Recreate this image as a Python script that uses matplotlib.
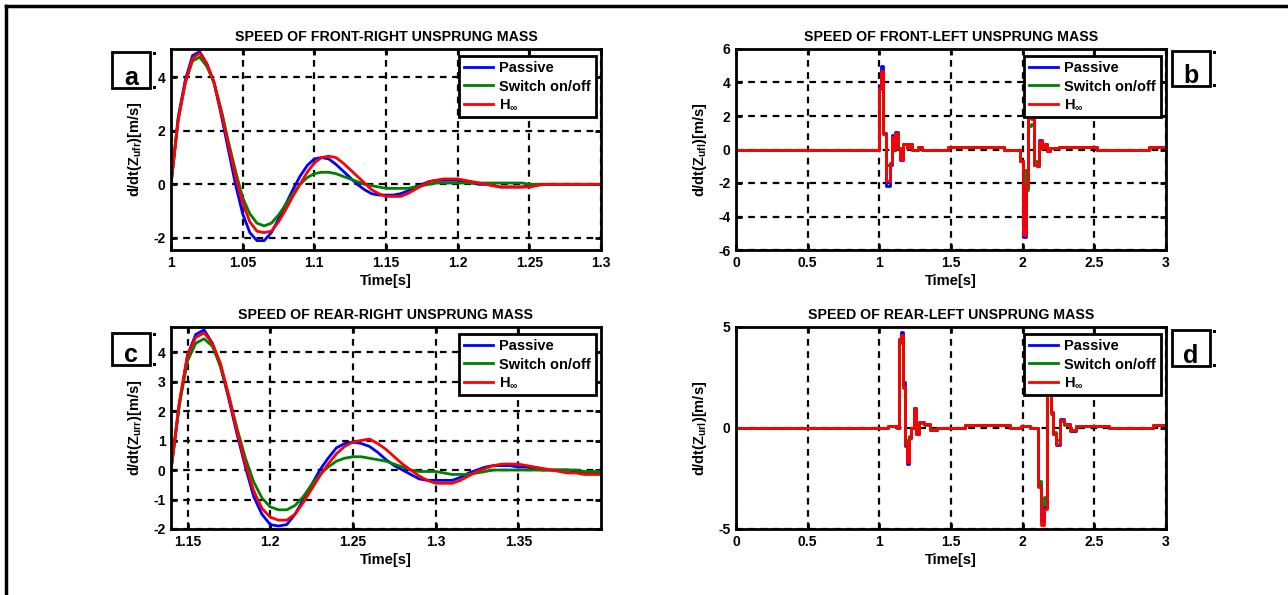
import numpy as np
import matplotlib
matplotlib.use("Agg")
import matplotlib.pyplot as plt
from matplotlib.lines import Line2D
from matplotlib.patches import Rectangle

plt.rcParams['font.family'] = 'Liberation Sans'
plt.rcParams['font.weight'] = 'bold'
plt.rcParams['mathtext.fontset'] = 'custom'
plt.rcParams['mathtext.rm'] = 'Liberation Sans:bold'
plt.rcParams['mathtext.bf'] = 'Liberation Sans:bold'
plt.rcParams['mathtext.default'] = 'bf'

# ---------------- data ----------------
# (a) front-right, sampled every 5 ms from 1.000 s
t_a = np.round(np.arange(1.0, 1.3001, 0.005), 3)
a_passive = [0.0, 2.5, 3.9, 4.8, 4.95, 4.5, 3.8, 2.6, 1.3, 0.0,
             -1.1, -1.8, -2.1, -2.1, -1.8, -1.3, -0.75, -0.2, 0.3, 0.7,
             0.95, 1.0, 0.95, 0.75, 0.5, 0.25, 0.0, -0.2, -0.35, -0.4,
             -0.4, -0.4, -0.35, -0.25, -0.1, 0.0, 0.1, 0.15, 0.15, 0.15,
             0.15, 0.1, 0.05, 0.0, 0.0, -0.05, -0.1, -0.1, -0.1, -0.1,
             -0.05, 0.0, 0.0, 0.0, 0.0, 0.0, 0.0, 0.0, 0.0, 0.0, 0.0]
a_switch = [0.0, 2.4, 3.8, 4.6, 4.75, 4.4, 3.8, 2.8, 1.6, 0.5,
            -0.5, -1.1, -1.45, -1.55, -1.45, -1.15, -0.75, -0.35, 0.0, 0.25,
            0.4, 0.45, 0.45, 0.4, 0.3, 0.2, 0.1, 0.0, -0.05, -0.1,
            -0.15, -0.15, -0.15, -0.15, -0.1, -0.05, 0.0, 0.05, 0.05, 0.05,
            0.05, 0.05, 0.05, 0.05, 0.05, 0.05, 0.05, 0.05, 0.05, 0.05,
            0.0, 0.0, 0.0, 0.0, 0.0, 0.0, 0.0, 0.0, 0.0, 0.0, 0.0]
a_hinf = [0.0, 2.4, 3.8, 4.7, 4.9, 4.5, 3.8, 2.7, 1.5, 0.3,
          -0.7, -1.4, -1.75, -1.8, -1.75, -1.4, -0.95, -0.45, 0.0, 0.45,
          0.8, 1.0, 1.05, 1.0, 0.8, 0.55, 0.3, 0.05, -0.2, -0.35,
          -0.45, -0.45, -0.45, -0.35, -0.2, -0.05, 0.1, 0.15, 0.2, 0.2,
          0.2, 0.15, 0.1, 0.05, 0.0, -0.05, -0.1, -0.1, -0.1, -0.1,
          -0.1, -0.05, 0.0, 0.0, 0.0, 0.0, 0.0, 0.0, 0.0, 0.0, 0.0]

# (c) rear-right, sampled every 5 ms from 1.140 s
t_c = np.round(np.arange(1.14, 1.4001, 0.005), 3)
c_passive = [0.0, 2.2, 3.9, 4.6, 4.75, 4.3, 3.5, 2.4, 1.2, 0.1,
             -0.9, -1.5, -1.85, -1.9, -1.85, -1.5, -1.0, -0.5, 0.0, 0.4,
             0.75, 0.9, 0.95, 0.9, 0.8, 0.6, 0.35, 0.15, 0.0, -0.15,
             -0.3, -0.35, -0.35, -0.35, -0.35, -0.25, -0.1, 0.0, 0.1, 0.15,
             0.15, 0.15, 0.1, 0.1, 0.05, 0.0, 0.0, 0.0, 0.0, -0.05,
             -0.1, -0.1, -0.1]
c_switch = [0.0, 2.2, 3.7, 4.3, 4.45, 4.2, 3.5, 2.5, 1.4, 0.4,
            -0.4, -0.95, -1.25, -1.35, -1.35, -1.2, -0.9, -0.5, -0.15, 0.1,
            0.3, 0.4, 0.45, 0.45, 0.4, 0.35, 0.3, 0.2, 0.1, 0.0,
            -0.05, -0.05, -0.05, -0.1, -0.15, -0.15, -0.15, -0.1, -0.05, 0.0,
            0.0, 0.0, 0.0, 0.0, 0.0, 0.0, 0.0, 0.0, 0.0, 0.0,
            -0.05, -0.05, -0.05]
c_hinf = [0.0, 2.3, 3.9, 4.5, 4.65, 4.3, 3.6, 2.5, 1.3, 0.2,
          -0.7, -1.3, -1.6, -1.7, -1.7, -1.5, -1.1, -0.65, -0.2, 0.2,
          0.55, 0.8, 0.95, 1.0, 1.05, 0.9, 0.7, 0.45, 0.2, 0.0,
          -0.2, -0.35, -0.45, -0.45, -0.45, -0.35, -0.2, -0.05, 0.05, 0.15,
          0.2, 0.2, 0.2, 0.15, 0.1, 0.05, 0.0, -0.05, -0.1, -0.1,
          -0.15, -0.15, -0.15]

# (b) front-left, step changes (time, value)
b_time = [0.0, 0.995, 1.011, 1.028, 1.046, 1.074, 1.086, 1.097, 1.109, 1.127,
          1.144, 1.167, 1.19, 1.206, 1.225, 1.27, 1.30, 1.48, 1.87, 1.983,
          2.002, 2.025, 2.04, 2.06, 2.08, 2.10, 2.115, 2.135, 2.15, 2.17,
          2.19, 2.25, 2.52, 2.88, 3.0]
b_passive = [0.0, 3.8, 5.0, 1.0, -2.2, -0.9, 0.85, 0.0, 1.05, 0.1,
             -0.6, 0.35, 0.1, 0.3, 0.0, 0.15, 0.0, 0.15, 0.0, -0.7,
             -5.2, -2.2, 3.8, 1.9, -0.9, -1.0, 0.55, 0.1, 0.3, -0.1,
             0.1, 0.15, 0.0, 0.15, 0.15]
b_switch = [0.0, 3.6, 4.0, 0.9, -0.9, -0.8, 0.6, 0.0, 0.8, 0.1,
            -0.4, 0.3, 0.1, 0.2, 0.0, 0.15, 0.0, 0.15, 0.0, -0.7,
            -1.2, -2.4, 1.4, 1.5, -0.7, -0.8, 0.4, 0.1, 0.2, -0.1,
            0.1, 0.15, 0.0, 0.15, 0.15]
b_hinf = [0.0, 3.7, 4.7, 0.9, -1.9, -0.8, 0.75, 0.0, 1.0, 0.1,
          -0.6, 0.35, 0.1, 0.3, 0.0, 0.15, 0.0, 0.15, 0.0, -0.7,
          -5.1, -2.1, 3.5, 1.8, -0.9, -1.0, 0.5, 0.1, 0.3, -0.1,
          0.1, 0.15, 0.0, 0.15, 0.15]

# (d) rear-left, step changes (time, value)
d_time = [0.0, 1.06, 1.12, 1.138, 1.152, 1.166, 1.178, 1.19, 1.206, 1.222,
          1.239, 1.255, 1.275, 1.31, 1.35, 1.40, 1.60, 1.91, 1.99, 2.05,
          2.11, 2.125, 2.15, 2.167, 2.196, 2.215, 2.235, 2.26, 2.29, 2.33,
          2.37, 2.60, 2.91, 3.0]
d_passive = [0.0, 0.1, 0.0, 4.4, 4.75, 2.3, -0.9, -1.8, -0.5, 0.0,
             1.0, -0.3, 0.3, 0.2, -0.1, 0.0, 0.15, 0.0, 0.1, 0.0,
             -2.8, -4.6, -3.9, 2.6, 0.8, -0.3, -0.85, 0.45, 0.2, -0.15,
             0.1, 0.0, 0.15, 0.15]
d_switch = [0.0, 0.1, 0.0, 4.2, 4.4, 2.0, -0.6, -1.2, -0.4, 0.0,
            0.8, -0.2, 0.25, 0.15, -0.05, 0.0, 0.15, 0.0, 0.1, 0.0,
            -2.6, -3.8, -3.4, 2.2, 0.7, -0.2, -0.6, 0.35, 0.15, -0.1,
            0.1, 0.0, 0.15, 0.15]
d_hinf = [0.0, 0.1, 0.0, 4.4, 4.6, 2.1, -0.8, -1.7, -0.5, 0.0,
          1.0, -0.3, 0.3, 0.2, -0.1, 0.0, 0.15, 0.0, 0.1, 0.0,
          -2.9, -4.8, -4.0, 2.5, 0.8, -0.3, -0.8, 0.4, 0.2, -0.1,
          0.1, 0.0, 0.15, 0.15]

series_names = ['Passive', 'Switch on/off', r'H$_{\infty}$']
colors = ['#0000ff', '#008000', '#ff0000']

# ---------------- figure ----------------
W, H = 1288, 595
fig = plt.figure(figsize=(W / 100, H / 100), dpi=100)


def px_axes(left, top, right, bottom):
    return fig.add_axes([left / W, 1 - bottom / H, (right - left) / W, (bottom - top) / H])


ax_a = px_axes(171, 49, 601, 250)
ax_b = px_axes(736, 49, 1166, 250)
ax_c = px_axes(171, 327, 601, 529)
ax_d = px_axes(736, 327, 1166, 529)

# a and c are densely sampled (smooth), b and d are held steps
panels = [
    (ax_a, t_a, [a_passive, a_switch, a_hinf], 'SPEED OF FRONT-RIGHT UNSPRUNG MASS', 'ufr',
     (1.0, 1.3), (-2.45, 5.05), [1.0, 1.05, 1.1, 1.15, 1.2, 1.25, 1.3], [-2, 0, 2, 4], 'default'),
    (ax_b, b_time, [b_passive, b_switch, b_hinf], 'SPEED OF FRONT-LEFT UNSPRUNG MASS', 'ufl',
     (0, 3), (-6, 6), [0, 0.5, 1, 1.5, 2, 2.5, 3], [-6, -4, -2, 0, 2, 4, 6], 'steps-post'),
    (ax_c, t_c, [c_passive, c_switch, c_hinf], 'SPEED OF REAR-RIGHT UNSPRUNG MASS', 'urr',
     (1.14, 1.4), (-2, 4.85), [1.15, 1.2, 1.25, 1.3, 1.35], [-2, -1, 0, 1, 2, 3, 4], 'default'),
    (ax_d, d_time, [d_passive, d_switch, d_hinf], 'SPEED OF REAR-LEFT UNSPRUNG MASS', 'url',
     (0, 3), (-5, 5), [0, 0.5, 1, 1.5, 2, 2.5, 3], [-5, 0, 5], 'steps-post'),
]

for ax, t, ys, title, sub, xl, yl, xt, yt, ds in panels:
    for y, c, name in zip(ys, colors, series_names):
        ax.plot(t, y, color=c, lw=2, drawstyle=ds, label=name)
    ax.set_xlim(*xl)
    ax.set_ylim(*yl)
    ax.set_xticks(xt)
    ax.set_yticks(yt)
    ax.set_xticklabels([('%g' % v) for v in xt])
    ax.set_yticklabels([('%g' % v) for v in yt])
    ax.grid(True, color='black', linestyle=(0, (3, 2.5)), lw=1.6)
    ax.set_axisbelow(True)
    ax.tick_params(direction='in', length=4, width=2, top=True, right=True,
                   labelsize=10, pad=4)
    for s in ax.spines.values():
        s.set_linewidth(2)
    ax.set_title(title, fontsize=10.2, fontweight='bold', pad=6)
    ax.set_xlabel('Time[s]', fontsize=10.5, fontweight='bold', labelpad=3)
    ax.set_ylabel('d/dt(Z$_{%s}$)[m/s]' % sub, fontsize=10.5, fontweight='bold')
    ax.yaxis.set_label_coords(-0.062, 0.5)
    leg = ax.legend(loc='upper right', bbox_to_anchor=(0.988, 0.965), borderaxespad=0,
                    fontsize=10.5, handlelength=2.0, handletextpad=0.4, labelspacing=0.3,
                    borderpad=0.35, fancybox=False, framealpha=1, edgecolor='black')
    leg.get_frame().set_linewidth(2)

# panel letter boxes
letters = [('a', 112, 52, 150, 88), ('b', 1172, 51, 1210, 86),
           ('c', 112, 333, 150, 365), ('d', 1172, 330, 1210, 366)]
for lab, x0, y0, x1, y1 in letters:
    fig.add_artist(Rectangle((x0 / W, 1 - y1 / H), (x1 - x0) / W, (y1 - y0) / H,
                             transform=fig.transFigure, fill=False, ec='black', lw=2))
    fig.text((x0 + x1) / 2 / W, 1 - (y1 - 3) / H, lab, fontsize=18, fontweight='bold',
             ha='center', va='baseline')
    for yy in (y0 + 3, y1 + 1):
        fig.add_artist(Rectangle(((x1 + 3) / W, 1 - yy / H), 3 / W, 3 / H,
                                 transform=fig.transFigure, color='black', lw=0))

# outer frame (top and left edges)
fig.add_artist(Line2D([6 / W, 1], [1 - 6 / H, 1 - 6 / H], transform=fig.transFigure,
                      color='black', lw=2.5))
fig.add_artist(Line2D([6 / W, 6 / W], [0, 1 - 6 / H], transform=fig.transFigure,
                      color='black', lw=2.5))

fig.savefig('out.png', dpi=100)
